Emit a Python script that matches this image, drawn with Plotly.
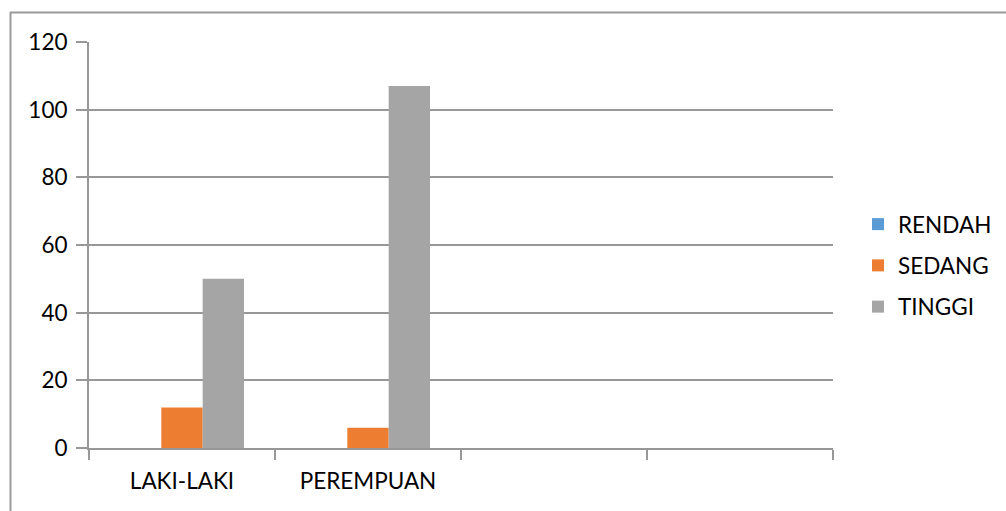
import plotly.graph_objects as go

categories = ["LAKI-LAKI", "PEREMPUAN", " ", "  "]
rendah = [0, 0, None, None]
sedang = [12, 6, None, None]
tinggi = [50, 107, None, None]

series = [
    ("RENDAH", rendah, "#5B9BD5"),
    ("SEDANG", sedang, "#ED7D31"),
    ("TINGGI", tinggi, "#A5A5A5"),
]

W, H = 1006, 511
L, R, T, B = 89, 833, 42, 448  # plot area in pixels
pw, ph = R - L, B - T

fig = go.Figure()
for name, vals, color in series:
    fig.add_trace(go.Bar(
        name=name, x=categories, y=vals, marker=dict(color=color, line=dict(width=0)),
        legendgroup=name,
    ))

grid = "#989898"
fs = 22.5
font = dict(family="Lato, Open Sans, sans-serif", size=fs, color="#000000")


def px_x(p):
    return (p - L) / pw


def px_y(p):
    return (B - p) / ph


fig.update_layout(
    width=W, height=H,
    margin=dict(l=L, r=W - R, t=T, b=H - B, autoexpand=False),
    paper_bgcolor="white", plot_bgcolor="white",
    barmode="group", bargap=1 / 3, bargroupgap=0,
    font=font,
    showlegend=True,
    legend=dict(
        x=px_x(858), y=px_y(265.5), xanchor="left", yanchor="middle",
        font=dict(size=fs, color="#000000"), traceorder="grouped",
        tracegroupgap=9, itemwidth=30, bgcolor="rgba(0,0,0,0)",
    ),
    xaxis=dict(
        type="category", range=[-0.5, 3.5], showgrid=False,
        showline=True, linecolor=grid, linewidth=2,
        ticks="outside", tickson="boundaries", ticklen=10, tickcolor=grid, tickwidth=2,
        tickfont=dict(size=fs, color="#000000"), ticklabelstandoff=12,
    ),
    yaxis=dict(
        range=[0, 120], dtick=20, showgrid=True, gridcolor=grid, gridwidth=2,
        showline=True, linecolor=grid, linewidth=2, zeroline=False,
        ticks="outside", ticklen=11, tickcolor=grid, tickwidth=2,
        tickfont=dict(size=fs, color="#000000"), ticklabelstandoff=4,
    ),
    shapes=[
        dict(type="line", xref="paper", yref="paper",
             x0=px_x(10.5), x1=px_x(10.5), y0=px_y(12), y1=px_y(520),
             line=dict(color="#9a9a9a", width=2)),
        dict(type="line", xref="paper", yref="paper",
             x0=px_x(10), x1=px_x(1010), y0=px_y(12.5), y1=px_y(12.5),
             line=dict(color="#9a9a9a", width=2)),
    ],
)

fig.write_html("out.html")
